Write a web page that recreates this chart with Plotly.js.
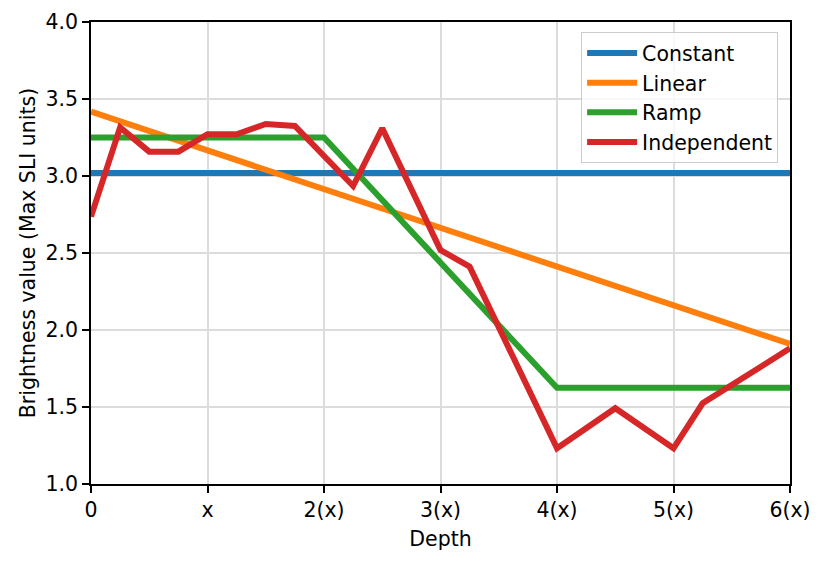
<!DOCTYPE html>
<html>
<head>
<meta charset="utf-8">
<script src="https://cdn.plot.ly/plotly-3.0.1.min.js"></script>
<style>html,body{margin:0;padding:0;background:#fff;}#chart{width:824px;height:562px;}</style>
</head>
<body>
<div id="chart"></div>
<script>
// Data
const seriesNames = ['Constant', 'Linear', 'Ramp', 'Independent'];
const seriesColors = ['#1f77b4', '#ff7f0e', '#2ca02c', '#d62728'];

const constantX = [0, 6];
const constantY = [3.02, 3.02];

const linearX = [0, 6];
const linearY = [3.418, 1.909];

const rampX = [0, 2, 4, 6];
const rampY = [3.25, 3.25, 1.625, 1.625];

const independentX = [0, 0.25, 0.5, 0.75, 1, 1.25, 1.5, 1.75, 2.25, 2.5, 3, 3.25, 4, 4.5, 5, 5.25, 6];
const independentY = [2.736, 3.316, 3.158, 3.158, 3.271, 3.271, 3.338, 3.325, 2.935, 3.31, 2.519, 2.411, 1.232, 1.492, 1.232, 1.524, 1.881];

const xTickVals = [0, 1, 2, 3, 4, 5, 6];
const xTickText = ['0', 'x', '2(x)', '3(x)', '4(x)', '5(x)', '6(x)'];
const yTickVals = [1.0, 1.5, 2.0, 2.5, 3.0, 3.5, 4.0];

const xs = [constantX, linearX, rampX, independentX];
const ys = [constantY, linearY, rampY, independentY];

const FONT = 'DejaVu Sans, sans-serif';
const FS = 20.5;

const traces = seriesNames.map((name, i) => ({
  type: 'scatter',
  mode: 'lines',
  name: name,
  legendgroup: 'g' + i,
  x: xs[i],
  y: ys[i],
  line: {color: seriesColors[i], width: 6}
}));

const layout = {
  width: 824,
  height: 562,
  margin: {l: 91, r: 34, t: 22, b: 78},
  paper_bgcolor: '#ffffff',
  plot_bgcolor: '#ffffff',
  font: {family: FONT, size: FS, color: '#000000'},
  showlegend: true,
  legend: {
    x: 0.983, y: 0.978, xanchor: 'right', yanchor: 'top',
    bgcolor: 'rgba(255,255,255,0.8)',
    bordercolor: '#cccccc', borderwidth: 1,
    font: {family: FONT, size: FS, color: '#000000'},
    traceorder: 'grouped',
    tracegroupgap: 0,
    itemwidth: 50
  },
  xaxis: {
    range: [0, 6],
    tickmode: 'array', tickvals: xTickVals, ticktext: xTickText,
    showgrid: true, gridcolor: '#dcdcdc', gridwidth: 1.5,
    zeroline: false,
    showline: true, linecolor: '#000000', linewidth: 1.6, mirror: true,
    ticks: 'outside', ticklen: 7, tickwidth: 1.6, tickcolor: '#000000',
    tickfont: {family: FONT, size: FS, color: '#000000'},
    title: {text: 'Depth', font: {family: FONT, size: FS, color: '#000000'}, standoff: 10}
  },
  yaxis: {
    range: [1, 4],
    tickmode: 'array', tickvals: yTickVals, ticktext: yTickVals.map(v => v.toFixed(1)),
    showgrid: true, gridcolor: '#dcdcdc', gridwidth: 1.5,
    zeroline: false,
    showline: true, linecolor: '#000000', linewidth: 1.6, mirror: true,
    ticks: 'outside', ticklen: 7, tickwidth: 1.6, tickcolor: '#000000',
    tickfont: {family: FONT, size: FS, color: '#000000'},
    title: {text: 'Brightness value (Max SLI units)', font: {family: FONT, size: FS, color: '#000000'}, standoff: 4}
  }
};

Plotly.newPlot('chart', traces, layout, {displayModeBar: false, responsive: false});
</script>
</body>
</html>
